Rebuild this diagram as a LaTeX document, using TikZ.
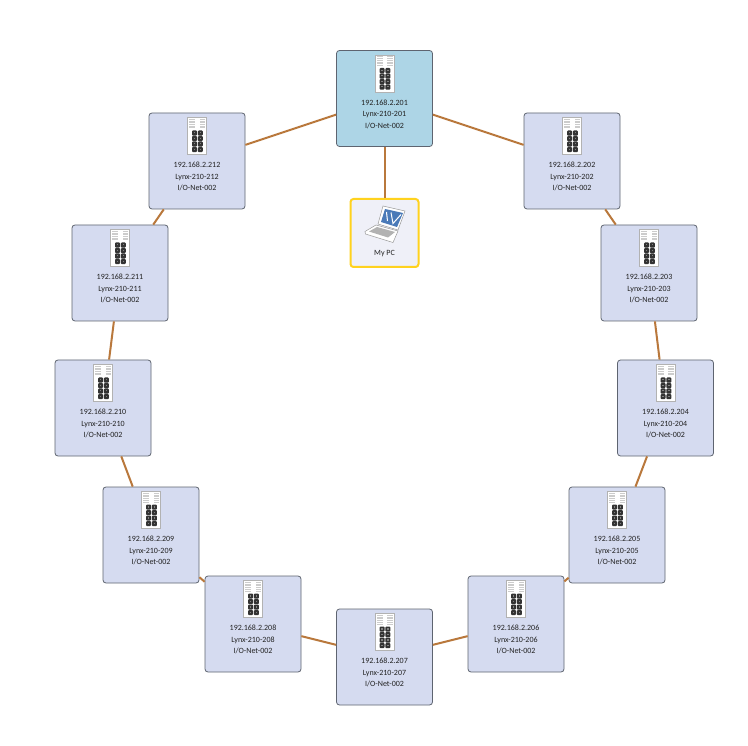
\documentclass[tikz,border=0pt]{standalone}
\usepackage{fontspec}
\setmainfont{Carlito}
\definecolor{linkc}{HTML}{B9783C}
\definecolor{boxc}{HTML}{D5DBF0}
\definecolor{rootc}{HTML}{ADD5E6}
\definecolor{edgec}{HTML}{5E6470}
\definecolor{pcfill}{HTML}{EFF0F8}
\definecolor{pcedge}{HTML}{FFD21E}
\definecolor{textc}{HTML}{222222}
\definecolor{screenc}{HTML}{4A7AB8}
\tikzset{
  devbox/.style={draw=edgec,line width=0.8pt,fill=boxc,rounded corners=3pt,minimum width=96pt,minimum height=96pt,inner sep=0pt},
  rootbox/.style={devbox,fill=rootc},
  pcbox/.style={draw=pcedge,line width=2pt,fill=pcfill,rounded corners=3pt,minimum width=68pt,minimum height=68pt,inner sep=0pt},
  link/.style={draw=linkc,line width=2pt},
  lab/.style={font=\fontsize{8}{11.5}\selectfont,text=textc,align=center,inner sep=0pt},
}
\newcommand{\swicon}[2]{%
  \begin{scope}[shift={(#1,#2)}]
    \fill[white] (-9.5,-43.5) rectangle (9.5,-6.5);
    \draw[gray!60,line width=0.4pt] (-9.5,-43.5) rectangle (9.5,-6.5);
    \foreach \yy in {-42,-40.3,-38.6,-36.9,-35.2,-33.5}{
      \fill[gray!40] (-8,\yy) rectangle (-2,\yy+0.7);
      \fill[gray!40] (2.5,\yy) rectangle (8,\yy+0.7);
    }
    \foreach \yy in {-30.5,-25,-19.5,-14}{
      \fill[black!80,rounded corners=1pt] (-5,\yy) rectangle (0,\yy+5.2);
      \fill[black!80,rounded corners=1pt] (0.8,\yy) rectangle (5.8,\yy+5.2);
      \fill[black!50] (-3.3,\yy+1.8) rectangle (-1.7,\yy+3);
      \fill[black!50] (2.5,\yy+1.8) rectangle (4.1,\yy+3);
    }
  \end{scope}}
\begin{document}
\begin{tikzpicture}[x=1pt,y=-1pt]
\useasboundingbox (0,0) rectangle (748,746);
\fill[white] (0,0) rectangle (748,746);
\node[rootbox] (n201) at (384.5,98.5) {};
\foreach \id/\px/\py in {202/572/161,203/649/273,204/665.5/408,205/617/535,206/516/624,207/384.5/657,208/253/624,209/151/535,210/103/408,211/120/273,212/197/161}{
  \node[devbox] (n\id) at (\px,\py) {};
}
\node[pcbox] (pc) at (384.5,233) {};
\foreach \a/\b in {201/202,202/203,203/204,204/205,205/206,206/207,207/208,208/209,209/210,210/211,211/212,212/201}{
  \draw[link] (n\a) -- (n\b);
}
\draw[link] (n201) -- (pc);
\foreach \id in {201,...,212}{
  \node[lab] (t\id) at ([yshift=-15.5pt]n\id.center) {192.168.2.\id\\Lynx-210-\id\\I/O-Net-002};
}
\foreach \px/\py in {384.5/98.5,572/161,649/273,665.5/408,617/535,516/624,384.5/657,253/624,151/535,103/408,120/273,197/161}{
  \swicon{\px}{\py}
}
% laptop
\fill[white,draw=gray!80,line width=0.5pt] (376,225) -- (398,231) -- (393,242.5) -- (365.5,234) -- (365,231.5) -- cycle;
\fill[white,draw=gray!80,line width=0.5pt] (383,206) -- (405,211) -- (398,230) -- (378,224) -- cycle;
\fill[gray!60] (377,227) -- (395,232) -- (388,237.5) -- (369,231.5) -- cycle;
\fill[screenc] (385,209) -- (403,213) -- (397,227) -- (381,222) -- cycle;
\draw[white,line width=1pt] (386.5,212) -- (387.5,221);
\draw[white,line width=1pt] (391,212.5) -- (393,223.5) -- (401,214.5);
\node[lab] (pclab) at (384.5,254) {My PC};
\end{tikzpicture}
\end{document}
